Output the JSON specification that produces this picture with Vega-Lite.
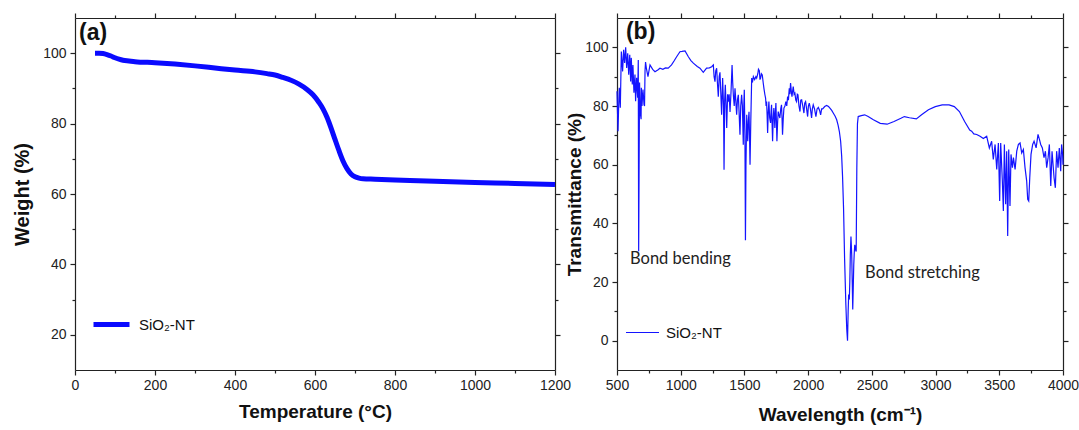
{
  "$schema": "https://vega.github.io/schema/vega-lite/v6.json",
  "background": "white",
  "padding": {"left": 12, "top": 12, "right": 2, "bottom": 2},
  "spacing": 62,
  "bounds": "flush",
  "config": {
    "view": {"stroke": null},
    "axis": {"grid": false, "domainColor": "#222", "tickColor": "#222", "labelColor": "#222", "titleColor": "#111", "labelFont": "Liberation Sans", "labelFontSize": 14, "titleFont": "Liberation Sans", "titleFontSize": 19, "titleFontWeight": "bold", "domainWidth": 1.2, "tickWidth": 1.2, "format": "d"}
  },
  "datasets": {
    "tga": [
      {"T": 50, "W": 100}, {"T": 60, "W": 100}, {"T": 70, "W": 99.9}, {"T": 80, "W": 99.6}, {"T": 90, "W": 99.2}, {"T": 100, "W": 98.7}, {"T": 110, "W": 98.3}, {"T": 120, "W": 98.0}, {"T": 135, "W": 97.8}, {"T": 150, "W": 97.6}, {"T": 200, "W": 97.3}, {"T": 250, "W": 96.9}, {"T": 300, "W": 96.4}, {"T": 350, "W": 95.8}, {"T": 400, "W": 95.2}, {"T": 450, "W": 94.7}, {"T": 480, "W": 94.2}, {"T": 500, "W": 93.8}, {"T": 520, "W": 93.1}, {"T": 540, "W": 92.3}, {"T": 560, "W": 91.2}, {"T": 580, "W": 89.7}, {"T": 595, "W": 88.2}, {"T": 610, "W": 86}, {"T": 620, "W": 84.2}, {"T": 630, "W": 81.8}, {"T": 640, "W": 78.8}, {"T": 650, "W": 75.5}, {"T": 660, "W": 72.3}, {"T": 670, "W": 69.4}, {"T": 680, "W": 67.2}, {"T": 690, "W": 65.7}, {"T": 700, "W": 64.9}, {"T": 710, "W": 64.5}, {"T": 720, "W": 64.3}, {"T": 750, "W": 64.2}, {"T": 800, "W": 64.0}, {"T": 900, "W": 63.6}, {"T": 1000, "W": 63.3}, {"T": 1100, "W": 63.0}, {"T": 1200, "W": 62.7}
    ],
    "ftir": [
      {"wn": 500, "t": 85}, {"wn": 504, "t": 78}, {"wn": 508, "t": 71.4}, {"wn": 513, "t": 80}, {"wn": 518, "t": 86.2}, {"wn": 526, "t": 79.4}, {"wn": 534, "t": 98.6}, {"wn": 544, "t": 91.8}, {"wn": 552, "t": 99.2}, {"wn": 560, "t": 94.7}, {"wn": 568, "t": 100}, {"wn": 576, "t": 93}, {"wn": 584, "t": 98}, {"wn": 592, "t": 90.7}, {"wn": 600, "t": 97.5}, {"wn": 607, "t": 88.4}, {"wn": 612, "t": 96.4}, {"wn": 620, "t": 87.3}, {"wn": 625, "t": 94}, {"wn": 633, "t": 84.5}, {"wn": 641, "t": 90.7}, {"wn": 646, "t": 81.6}, {"wn": 654, "t": 89.6}, {"wn": 662, "t": 82.8}, {"wn": 667, "t": 95.7}, {"wn": 670, "t": 30.5}, {"wn": 673, "t": 55}, {"wn": 677, "t": 88}, {"wn": 683, "t": 77.6}, {"wn": 689, "t": 75.5}, {"wn": 691, "t": 86.2}, {"wn": 696, "t": 80}, {"wn": 704, "t": 85.6}, {"wn": 712, "t": 80.5}, {"wn": 716, "t": 80}, {"wn": 720, "t": 92}, {"wn": 724, "t": 95}, {"wn": 730, "t": 93}, {"wn": 743, "t": 90}, {"wn": 759, "t": 94}, {"wn": 780, "t": 92.5}, {"wn": 798, "t": 91.7}, {"wn": 820, "t": 92.3}, {"wn": 837, "t": 92.9}, {"wn": 860, "t": 92.5}, {"wn": 880, "t": 93}, {"wn": 902, "t": 92.9}, {"wn": 928, "t": 94}, {"wn": 950, "t": 95.5}, {"wn": 968, "t": 96.8}, {"wn": 994, "t": 98.5}, {"wn": 1010, "t": 98.6}, {"wn": 1034, "t": 98.8}, {"wn": 1060, "t": 96.8}, {"wn": 1080, "t": 95.5}, {"wn": 1099, "t": 94.6}, {"wn": 1130, "t": 93.5}, {"wn": 1151, "t": 92.9}, {"wn": 1177, "t": 91.5}, {"wn": 1203, "t": 92.9}, {"wn": 1225, "t": 93}, {"wn": 1243, "t": 93.4}, {"wn": 1256, "t": 94}, {"wn": 1262, "t": 90}, {"wn": 1269, "t": 88.3}, {"wn": 1275, "t": 92}, {"wn": 1282, "t": 92.9}, {"wn": 1288, "t": 88}, {"wn": 1295, "t": 83.2}, {"wn": 1302, "t": 90}, {"wn": 1308, "t": 91.5}, {"wn": 1314, "t": 85}, {"wn": 1321, "t": 77}, {"wn": 1329, "t": 89.5}, {"wn": 1336, "t": 80}, {"wn": 1340, "t": 58.3}, {"wn": 1345, "t": 82}, {"wn": 1350, "t": 87.2}, {"wn": 1356, "t": 80}, {"wn": 1361, "t": 72.5}, {"wn": 1368, "t": 84}, {"wn": 1374, "t": 81.5}, {"wn": 1380, "t": 84}, {"wn": 1387, "t": 78}, {"wn": 1395, "t": 85}, {"wn": 1403, "t": 94}, {"wn": 1408, "t": 88}, {"wn": 1413, "t": 83.8}, {"wn": 1420, "t": 80}, {"wn": 1426, "t": 86}, {"wn": 1432, "t": 82}, {"wn": 1439, "t": 77}, {"wn": 1445, "t": 82}, {"wn": 1452, "t": 83.8}, {"wn": 1458, "t": 78}, {"wn": 1465, "t": 70.2}, {"wn": 1471, "t": 80}, {"wn": 1478, "t": 83.8}, {"wn": 1484, "t": 80}, {"wn": 1491, "t": 66.8}, {"wn": 1495, "t": 80}, {"wn": 1499, "t": 85.5}, {"wn": 1504, "t": 70}, {"wn": 1508, "t": 34.2}, {"wn": 1512, "t": 60}, {"wn": 1518, "t": 77}, {"wn": 1522, "t": 72}, {"wn": 1526, "t": 68}, {"wn": 1531, "t": 75}, {"wn": 1536, "t": 78}, {"wn": 1540, "t": 70}, {"wn": 1544, "t": 60}, {"wn": 1550, "t": 75}, {"wn": 1557, "t": 89.5}, {"wn": 1563, "t": 88}, {"wn": 1570, "t": 90}, {"wn": 1580, "t": 89}, {"wn": 1590, "t": 90}, {"wn": 1596, "t": 89.5}, {"wn": 1605, "t": 91}, {"wn": 1610, "t": 92.5}, {"wn": 1617, "t": 92}, {"wn": 1622, "t": 89}, {"wn": 1627, "t": 89.5}, {"wn": 1633, "t": 91}, {"wn": 1640, "t": 90.6}, {"wn": 1647, "t": 88}, {"wn": 1653, "t": 86}, {"wn": 1660, "t": 84}, {"wn": 1666, "t": 82.7}, {"wn": 1670, "t": 80}, {"wn": 1674, "t": 81.5}, {"wn": 1678, "t": 77}, {"wn": 1682, "t": 70.8}, {"wn": 1687, "t": 78}, {"wn": 1692, "t": 81.5}, {"wn": 1698, "t": 76}, {"wn": 1705, "t": 74.2}, {"wn": 1709, "t": 78}, {"wn": 1713, "t": 80.4}, {"wn": 1717, "t": 74}, {"wn": 1721, "t": 68}, {"wn": 1726, "t": 76}, {"wn": 1731, "t": 79.3}, {"wn": 1735, "t": 76}, {"wn": 1739, "t": 72.5}, {"wn": 1743, "t": 78}, {"wn": 1747, "t": 81}, {"wn": 1751, "t": 75}, {"wn": 1755, "t": 68}, {"wn": 1760, "t": 74}, {"wn": 1765, "t": 78.1}, {"wn": 1771, "t": 77}, {"wn": 1778, "t": 75.9}, {"wn": 1785, "t": 79}, {"wn": 1791, "t": 80.4}, {"wn": 1795, "t": 76}, {"wn": 1799, "t": 70.2}, {"wn": 1805, "t": 76}, {"wn": 1810, "t": 79.3}, {"wn": 1818, "t": 80}, {"wn": 1825, "t": 81.5}, {"wn": 1832, "t": 80}, {"wn": 1839, "t": 83.2}, {"wn": 1845, "t": 82}, {"wn": 1852, "t": 86}, {"wn": 1857, "t": 84}, {"wn": 1862, "t": 87.8}, {"wn": 1868, "t": 85}, {"wn": 1873, "t": 83.2}, {"wn": 1878, "t": 85}, {"wn": 1883, "t": 86.6}, {"wn": 1890, "t": 84}, {"wn": 1896, "t": 84.4}, {"wn": 1903, "t": 82}, {"wn": 1909, "t": 81.5}, {"wn": 1915, "t": 84}, {"wn": 1920, "t": 83.8}, {"wn": 1928, "t": 80}, {"wn": 1936, "t": 78.1}, {"wn": 1942, "t": 82}, {"wn": 1949, "t": 82.1}, {"wn": 1958, "t": 80}, {"wn": 1967, "t": 77.6}, {"wn": 1973, "t": 81}, {"wn": 1980, "t": 81.5}, {"wn": 1988, "t": 79}, {"wn": 1996, "t": 76.4}, {"wn": 2002, "t": 80}, {"wn": 2009, "t": 81}, {"wn": 2018, "t": 79}, {"wn": 2027, "t": 75.9}, {"wn": 2033, "t": 79}, {"wn": 2040, "t": 80.4}, {"wn": 2050, "t": 79}, {"wn": 2061, "t": 76.4}, {"wn": 2070, "t": 79}, {"wn": 2080, "t": 79.5}, {"wn": 2090, "t": 78.5}, {"wn": 2098, "t": 77}, {"wn": 2106, "t": 79}, {"wn": 2114, "t": 79}, {"wn": 2130, "t": 79.8}, {"wn": 2145, "t": 80.2}, {"wn": 2160, "t": 79.8}, {"wn": 2171, "t": 79.3}, {"wn": 2185, "t": 78.5}, {"wn": 2197, "t": 77.6}, {"wn": 2212, "t": 76.5}, {"wn": 2224, "t": 75.3}, {"wn": 2235, "t": 73.5}, {"wn": 2245, "t": 71.3}, {"wn": 2255, "t": 68}, {"wn": 2263, "t": 63}, {"wn": 2270, "t": 56}, {"wn": 2278, "t": 45}, {"wn": 2286, "t": 28}, {"wn": 2296, "t": 12.3}, {"wn": 2303, "t": 4}, {"wn": 2309, "t": 0}, {"wn": 2314, "t": 10}, {"wn": 2318, "t": 15.7}, {"wn": 2323, "t": 14}, {"wn": 2327, "t": 20}, {"wn": 2331, "t": 29.3}, {"wn": 2336, "t": 35.5}, {"wn": 2342, "t": 29.3}, {"wn": 2346, "t": 20}, {"wn": 2350, "t": 10.6}, {"wn": 2354, "t": 18}, {"wn": 2358, "t": 25.9}, {"wn": 2362, "t": 30}, {"wn": 2366, "t": 32.7}, {"wn": 2372, "t": 31}, {"wn": 2377, "t": 30.4}, {"wn": 2382, "t": 58.8}, {"wn": 2387, "t": 74}, {"wn": 2393, "t": 76.4}, {"wn": 2417, "t": 76.7}, {"wn": 2444, "t": 77}, {"wn": 2471, "t": 76.4}, {"wn": 2512, "t": 75.3}, {"wn": 2566, "t": 74.1}, {"wn": 2620, "t": 73.8}, {"wn": 2674, "t": 74.7}, {"wn": 2728, "t": 75.8}, {"wn": 2755, "t": 76.4}, {"wn": 2795, "t": 76}, {"wn": 2849, "t": 75.6}, {"wn": 2890, "t": 77}, {"wn": 2944, "t": 78.7}, {"wn": 2998, "t": 79.8}, {"wn": 3052, "t": 80.4}, {"wn": 3106, "t": 80.4}, {"wn": 3147, "t": 79.8}, {"wn": 3187, "t": 78.1}, {"wn": 3228, "t": 74.7}, {"wn": 3268, "t": 71.8}, {"wn": 3283, "t": 71.4}, {"wn": 3300, "t": 70.5}, {"wn": 3323, "t": 70.3}, {"wn": 3349, "t": 69.7}, {"wn": 3375, "t": 68.9}, {"wn": 3401, "t": 69.7}, {"wn": 3422, "t": 65.7}, {"wn": 3440, "t": 68}, {"wn": 3453, "t": 61.8}, {"wn": 3467, "t": 66.9}, {"wn": 3480, "t": 58.4}, {"wn": 3493, "t": 67.4}, {"wn": 3503, "t": 47.6}, {"wn": 3511, "t": 67.4}, {"wn": 3524, "t": 54.4}, {"wn": 3532, "t": 44.2}, {"wn": 3540, "t": 66.9}, {"wn": 3550, "t": 46.5}, {"wn": 3558, "t": 64.6}, {"wn": 3566, "t": 35.7}, {"wn": 3574, "t": 65.2}, {"wn": 3584, "t": 45.9}, {"wn": 3592, "t": 63.5}, {"wn": 3603, "t": 59}, {"wn": 3611, "t": 62.4}, {"wn": 3624, "t": 58.4}, {"wn": 3637, "t": 64.6}, {"wn": 3650, "t": 66.9}, {"wn": 3663, "t": 67.4}, {"wn": 3676, "t": 64}, {"wn": 3689, "t": 65.2}, {"wn": 3702, "t": 59}, {"wn": 3715, "t": 54.4}, {"wn": 3723, "t": 48.2}, {"wn": 3731, "t": 47.6}, {"wn": 3739, "t": 55.5}, {"wn": 3749, "t": 63.5}, {"wn": 3762, "t": 66.9}, {"wn": 3773, "t": 68}, {"wn": 3789, "t": 65.7}, {"wn": 3804, "t": 70.3}, {"wn": 3815, "t": 68.6}, {"wn": 3825, "t": 66.9}, {"wn": 3838, "t": 65.7}, {"wn": 3851, "t": 62.4}, {"wn": 3862, "t": 64.6}, {"wn": 3872, "t": 59}, {"wn": 3883, "t": 62.4}, {"wn": 3893, "t": 66.9}, {"wn": 3904, "t": 52.7}, {"wn": 3914, "t": 64.6}, {"wn": 3930, "t": 55.5}, {"wn": 3940, "t": 52.1}, {"wn": 3950, "t": 64.6}, {"wn": 3961, "t": 59}, {"wn": 3971, "t": 65.7}, {"wn": 3982, "t": 57.8}, {"wn": 3989, "t": 66.9}, {"wn": 3997, "t": 63.5}, {"wn": 4000, "t": 60}
    ]
  },
  "hconcat": [
    {
      "width": 480,
      "height": 352,
      "resolve": {"axis": {"x": "independent", "y": "independent"}},
      "layer": [
        {
          "data": {"name": "tga"},
          "mark": {"type": "line", "strokeWidth": 5, "interpolate": "monotone"},
          "encoding": {
            "x": {"field": "T", "type": "quantitative", "scale": {"domain": [0, 1200], "nice": false, "zero": false},
              "axis": {"orient": "bottom", "title": "Temperature (°C)", "values": [0, 100, 200, 300, 400, 500, 600, 700, 800, 900, 1000, 1100, 1200], "labelExpr": "datum.value % 200 === 0 ? datum.label : ''", "tickSize": {"condition": {"test": "datum.value % 200 === 0", "value": 5}, "value": 3}, "labelPadding": 3, "titlePadding": 10, "labelFlush": false}},
            "y": {"field": "W", "type": "quantitative", "scale": {"domain": [10, 110], "nice": false, "zero": false},
              "axis": {"orient": "left", "title": "Weight (%)", "values": [20, 30, 40, 50, 60, 70, 80, 90, 100], "labelExpr": "datum.value % 20 === 0 ? datum.label : ''", "tickSize": {"condition": {"test": "datum.value % 20 === 0", "value": 5}, "value": 3}, "labelPadding": 4, "titlePadding": 10, "titleFontSize": 20}},
            "color": {"field": "series", "type": "nominal", "datum": "SiO₂-NT", "scale": {"domain": ["SiO₂-NT"], "range": ["#0a0aff"]},
              "legend": {"orient": "none", "legendX": 16, "legendY": 286, "symbolType": "stroke", "symbolStrokeWidth": 5, "symbolSize": 1296, "labelFontSize": 15, "labelFont": "Liberation Sans", "labelColor": "#111", "labelOffset": 7, "title": null, "padding": 0}}
          }
        },
        {
          "data": {"values": [{"label": "(a)"}]},
          "mark": {"type": "text", "font": "Liberation Sans", "fontWeight": "bold", "fontSize": 23, "align": "left", "baseline": "middle", "color": "#111"},
          "encoding": {
            "text": {"field": "label"},
            "x": {"datum": 10, "type": "quantitative", "axis": {"orient": "top", "title": null, "labels": false, "values": [0, 100, 200, 300, 400, 500, 600, 700, 800, 900, 1000, 1100, 1200], "tickSize": {"condition": {"test": "datum.value % 200 === 0", "value": 5}, "value": 3}}},
            "y": {"datum": 105.8, "type": "quantitative", "axis": {"orient": "right", "title": null, "labels": false, "values": [20, 30, 40, 50, 60, 70, 80, 90, 100], "tickSize": {"condition": {"test": "datum.value % 20 === 0", "value": 5}, "value": 3}}}
          }
        }
      ]
    },
    {
      "width": 446,
      "height": 352,
      "resolve": {"axis": {"x": "independent", "y": "independent"}},
      "layer": [
        {
          "data": {"name": "ftir"},
          "mark": {"type": "line", "strokeWidth": 1.2},
          "encoding": {
            "x": {"field": "wn", "type": "quantitative", "scale": {"domain": [500, 4000], "nice": false, "zero": false},
              "axis": {"orient": "bottom", "title": "Wavelength (cm⁻¹)", "values": [500, 750, 1000, 1250, 1500, 1750, 2000, 2250, 2500, 2750, 3000, 3250, 3500, 3750, 4000], "labelExpr": "datum.value % 500 === 0 ? datum.label : ''", "tickSize": {"condition": {"test": "datum.value % 500 === 0", "value": 5}, "value": 3}, "labelPadding": 3, "titlePadding": 13, "labelFlush": false}},
            "y": {"field": "t", "type": "quantitative", "scale": {"domain": [-10, 110], "nice": false, "zero": false},
              "axis": {"orient": "left", "title": "Transmittance (%)", "values": [0, 10, 20, 30, 40, 50, 60, 70, 80, 90, 100], "labelExpr": "datum.value % 20 === 0 ? datum.label : ''", "tickSize": {"condition": {"test": "datum.value % 20 === 0", "value": 5}, "value": 3}, "labelPadding": 4, "titlePadding": 0}},
            "color": {"field": "series", "type": "nominal", "datum": "SiO₂-NT", "scale": {"domain": ["SiO₂-NT"], "range": ["#1414ff"]},
              "legend": {"orient": "none", "legendX": 8, "legendY": 297, "symbolType": "stroke", "symbolStrokeWidth": 1.2, "symbolSize": 1089, "labelFontSize": 15, "labelFont": "Liberation Sans", "labelColor": "#111", "labelOffset": 6, "title": null, "padding": 0}}
          }
        },
        {
          "data": {"values": [{"label": "(b)"}]},
          "mark": {"type": "text", "font": "Liberation Sans", "fontWeight": "bold", "fontSize": 23, "align": "left", "baseline": "middle", "color": "#111"},
          "encoding": {
            "text": {"field": "label"},
            "x": {"datum": 570, "type": "quantitative", "axis": {"orient": "top", "title": null, "labels": false, "values": [500, 750, 1000, 1250, 1500, 1750, 2000, 2250, 2500, 2750, 3000, 3250, 3500, 3750, 4000], "tickSize": {"condition": {"test": "datum.value % 500 === 0", "value": 5}, "value": 3}}},
            "y": {"datum": 105.2, "type": "quantitative", "axis": {"orient": "right", "title": null, "labels": false, "values": [0, 10, 20, 30, 40, 50, 60, 70, 80, 90, 100], "tickSize": {"condition": {"test": "datum.value % 20 === 0", "value": 5}, "value": 3}}}
          }
        },
        {
          "data": {"values": [{"label": "Bond bending"}]},
          "mark": {"type": "text", "font": "Lato", "fontSize": 16.5, "align": "left", "baseline": "middle", "color": "#222"},
          "encoding": {"text": {"field": "label"}, "x": {"datum": 602, "type": "quantitative", "axis": null}, "y": {"datum": 27.9, "type": "quantitative", "axis": null}}
        },
        {
          "data": {"values": [{"label": "Bond stretching"}]},
          "mark": {"type": "text", "font": "Lato", "fontSize": 16.5, "align": "left", "baseline": "middle", "color": "#222"},
          "encoding": {"text": {"field": "label"}, "x": {"datum": 2447, "type": "quantitative", "axis": null}, "y": {"datum": 23.1, "type": "quantitative", "axis": null}}
        }
      ]
    }
  ],
  "resolve": {"scale": {"color": "independent"}, "legend": {"color": "independent"}}
}
